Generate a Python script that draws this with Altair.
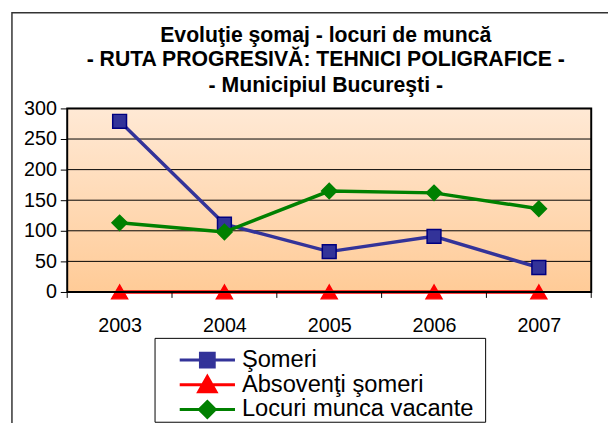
import altair as alt
import pandas as pd

years = ["2003", "2004", "2005", "2006", "2007"]
someri = [279, 111, 66, 91, 40]
absolventi = [0, 0, 0, 0, 0]
locuri = [113, 98, 165, 162, 136]
series_names = ["Şomeri", "Absovenţi şomeri", "Locuri munca vacante"]
series_colors = ["#333399", "#FF0000", "#008000"]
marker_strokes = ["#000080", "#FF0000", "#008000"]
marker_shapes = ["square", "triangle-up", "diamond"]
marker_sizes = [196, 260, 240]
y_ticks = [0, 50, 100, 150, 200, 250, 300]
x_bounds = [0, 1, 2, 3, 4, 5]
title_lines = ["Evoluţie şomaj - locuri de muncă",
               "- RUTA PROGRESIVĂ: TEHNICI POLIGRAFICE -",
               "- Municipiul Bucureşti -"]
title_offsets = [-73, -49, -23]

rows = []
for name, vals in zip(series_names, [someri, absolventi, locuri]):
    for yr, v in zip(years, vals):
        rows.append({"year": yr, "value": v, "series": name})
df = pd.DataFrame(rows)

W, H = 531, 186
FONT = "Liberation Sans"
one = pd.DataFrame({"a": [0]})

y_scale = alt.Scale(domain=[0, 300], nice=False)
y_axis = alt.Axis(title=None, values=y_ticks, tickCount=7, labelFontSize=20, labelFont=FONT,
                  labelColor="black", grid=False, tickColor="black", tickSize=7,
                  domain=False, labelPadding=4, labelOverlap=False)
x_enc = alt.X("year:O", scale=alt.Scale(domain=years, type="point", padding=0.5),
              axis=alt.Axis(title=None, labelAngle=0, labelFontSize=20, labelFont=FONT,
                            labelColor="black", ticks=False, domain=False,
                            labelPadding=24))

base = alt.Chart(df)

outer = alt.Chart(one).mark_rect(
    fill=None, stroke="#333333", strokeWidth=1.5, clip=False
).encode(x=alt.value(-56), x2=alt.value(W + 60), y=alt.value(-97), y2=alt.value(H + 200))

bg = alt.Chart(one).mark_rect(
    fill=alt.Gradient(gradient="linear", x1=0, x2=0, y1=0, y2=1,
                      stops=[alt.GradientStop(color="#FFE9D5", offset=0),
                             alt.GradientStop(color="#FFCB97", offset=1)]),
).encode(x=alt.value(0), x2=alt.value(W), y=alt.value(0), y2=alt.value(H))

grid = alt.Chart(pd.DataFrame({"value": y_ticks})).mark_rule(
    color="black", strokeWidth=1
).encode(y=alt.Y("value:Q", scale=y_scale, axis=y_axis),
         x=alt.value(0), x2=alt.value(W))

axis_layer = base.mark_point(opacity=0).encode(
    x=x_enc, y=alt.Y("value:Q", scale=y_scale, axis=y_axis))

layers = [outer, bg, grid, axis_layer]
for name, col, st, shp, sz in zip(series_names, series_colors, marker_strokes,
                                  marker_shapes, marker_sizes):
    sub = base.transform_filter(alt.datum.series == name)
    layers.append(sub.mark_line(color=col, strokeWidth=3.5, clip=False).encode(
        x="year:O", y="value:Q"))
    layers.append(sub.mark_point(shape=shp, size=sz, filled=True, fill=col, stroke=st,
                                 strokeWidth=1.5, opacity=1, clip=False).encode(
        x="year:O", y="value:Q"))

legend_paths = [
    "M-4,0H4M-1,-1H1V1H-1Z",
    "M-4,0H4M0,-1.2L1.25,1H-1.25Z",
    "M-4,0H4M0,-1.15L1.15,0L0,1.15L-1.15,0Z",
]
legend_layer = base.transform_filter("false").mark_point(filled=True, opacity=1).encode(
    fill=alt.Fill("series:N", scale=alt.Scale(domain=series_names, range=series_colors),
                  legend=alt.Legend(title=None)),
    stroke=alt.Stroke("series:N", scale=alt.Scale(domain=series_names, range=series_colors),
                      legend=alt.Legend(title=None)),
    shape=alt.Shape("series:N", scale=alt.Scale(domain=series_names, range=legend_paths),
                    legend=alt.Legend(title=None)),
)
layers.append(legend_layer)

legend_box = alt.Chart(one).mark_rect(
    fill=None, stroke="black", strokeWidth=1, clip=False
).encode(x=alt.value(89), x2=alt.value(424), y=alt.value(233), y2=alt.value(318))
layers.append(legend_box)

frame = alt.Chart(one).mark_rect(
    fill=None, stroke="black", strokeWidth=2
).encode(x=alt.value(0), x2=alt.value(W), y=alt.value(0), y2=alt.value(H))
layers.append(frame)

for line, off in zip(title_lines, title_offsets):
    layers.append(alt.Chart(pd.DataFrame({"t": [line]})).mark_text(
        fontSize=21.5, font=FONT, fontWeight="bold", color="black",
        align="center", baseline="middle"
    ).encode(text="t:N", x=alt.value(262), y=alt.value(off)))

main = alt.layer(*layers)

ticks_layer = alt.Chart(pd.DataFrame({"b": x_bounds})).mark_rule(
    color="black", strokeWidth=1
).encode(
    x=alt.X("b:Q", scale=alt.Scale(domain=[0, 5], nice=False), axis=None),
    y=alt.value(H), y2=alt.value(H + 6))

chart = alt.layer(main, ticks_layer).resolve_scale(x="independent").properties(
    width=W, height=H,
    padding={"left": 60, "top": 99, "right": 17, "bottom": 130},
    autosize=alt.AutoSizeParams(type="none"),
).configure_view(stroke=None).configure_axisY(labelOverlap=False).configure_legend(
    orient="none", legendX=87, legendY=233, direction="vertical",
    labelFontSize=24, labelFont=FONT, labelColor="black",
    symbolSize=196, symbolStrokeWidth=3, symbolOffset=33, labelOffset=23,
    rowPadding=-10, padding=10, strokeColor=None,
    labelLimit=400,
)

chart.save("out.html", embed_options={"renderer": "svg", "actions": False})
